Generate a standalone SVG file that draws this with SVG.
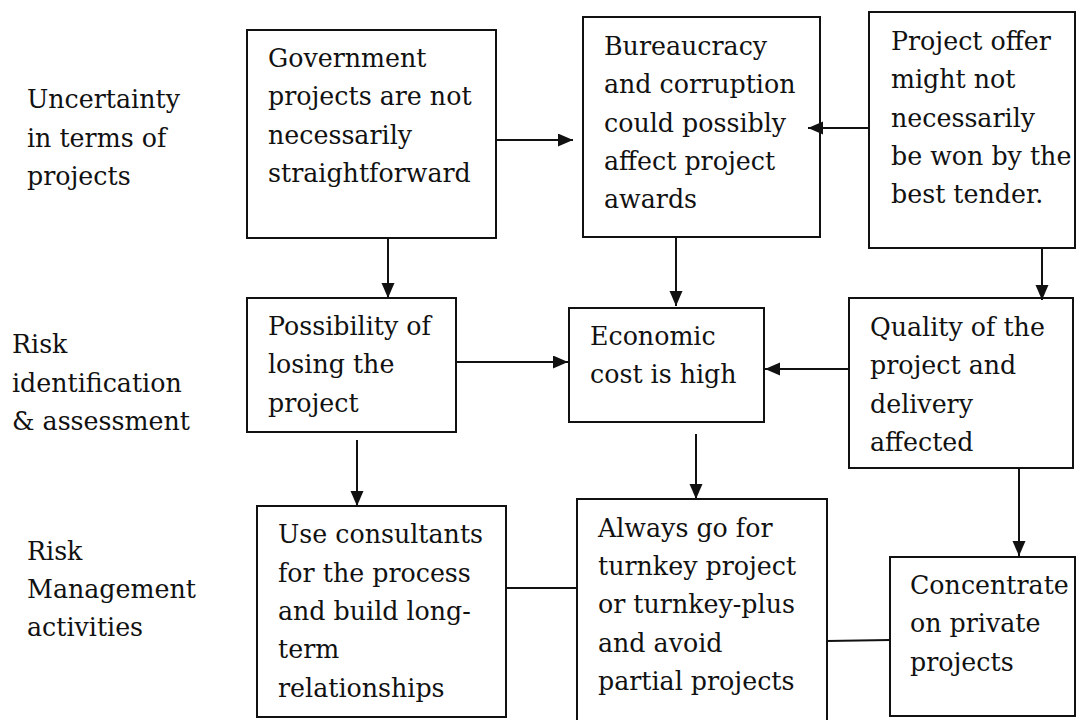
<svg xmlns="http://www.w3.org/2000/svg" width="1077" height="720" viewBox="0 0 1077 720">
<style>
text{font-family:"DejaVu Serif","Liberation Serif",serif;font-size:25.3px;fill:#111}
.box{fill:#fff;stroke:#111;stroke-width:2}
.c{stroke:#111;stroke-width:2;fill:none}
</style>
<defs>
<marker id="ah" markerUnits="userSpaceOnUse" markerWidth="16" markerHeight="14" refX="15" refY="6.5" orient="auto">
<path d="M0,0 L15,6.5 L0,13 z" fill="#111"/>
</marker>
</defs>
<rect width="1077" height="720" fill="#fff"/>
<g id="labels">
<text x="27" y="108">Uncertainty</text>
<text x="27" y="146.5">in terms of</text>
<text x="27" y="184.5">projects</text>
<text x="12" y="353">Risk</text>
<text x="12" y="391.5">identification</text>
<text x="12" y="430">&amp; assessment</text>
<text x="27" y="560">Risk</text>
<text x="27" y="598">Management</text>
<text x="27" y="636">activities</text>
</g>
<g id="n-government">
<rect class="box" x="247" y="30" width="249" height="208"/>
<text x="268" y="66.5">Government</text>
<text x="268" y="105">projects are not</text>
<text x="268" y="143.5">necessarily</text>
<text x="268" y="181.5">straightforward</text>
</g>
<g id="n-bureaucracy">
<rect class="box" x="583" y="17" width="237" height="220"/>
<text x="604" y="55">Bureaucracy</text>
<text x="604" y="93.3">and corruption</text>
<text x="604" y="131.6">could possibly</text>
<text x="604" y="169.9">affect project</text>
<text x="604" y="208.2">awards</text>
</g>
<g id="n-offer">
<rect class="box" x="869" y="12" width="206" height="236"/>
<text x="891" y="50">Project offer</text>
<text x="891" y="88.3">might not</text>
<text x="891" y="126.6">necessarily</text>
<text x="891" y="164.9">be won by the</text>
<text x="891" y="203.2">best tender.</text>
</g>
<g id="n-possibility">
<rect class="box" x="247" y="298" width="209" height="134"/>
<text x="268" y="335">Possibility of</text>
<text x="268" y="373.3">losing the</text>
<text x="268" y="411.6">project</text>
</g>
<g id="n-economic">
<rect class="box" x="569" y="308" width="195" height="114"/>
<text x="590" y="345">Economic</text>
<text x="590" y="383.3">cost is high</text>
</g>
<g id="n-quality">
<rect class="box" x="849" y="298" width="224" height="170"/>
<text x="870" y="336">Quality of the</text>
<text x="870" y="374.3">project and</text>
<text x="870" y="412.6">delivery</text>
<text x="870" y="450.9">affected</text>
</g>
<g id="n-consultants">
<rect class="box" x="257" y="506" width="249" height="211"/>
<text x="278" y="543">Use consultants</text>
<text x="278" y="581.5">for the process</text>
<text x="278" y="620">and build long-</text>
<text x="278" y="658.3">term</text>
<text x="278" y="696.7">relationships</text>
</g>
<g id="n-turnkey">
<rect class="box" x="577" y="499" width="250" height="240"/>
<text x="598" y="537">Always go for</text>
<text x="598" y="575">turnkey project</text>
<text x="598" y="613.3">or turnkey-plus</text>
<text x="598" y="651.6">and avoid</text>
<text x="598" y="689.5">partial projects</text>
</g>
<g id="n-private">
<rect class="box" x="890" y="557" width="185" height="159"/>
<text x="910" y="594">Concentrate</text>
<text x="910" y="632.3">on private</text>
<text x="910" y="670.6">projects</text>
</g>
<g id="connectors">
<line class="c" x1="496" y1="140" x2="573" y2="140" marker-end="url(#ah)"/>
<line class="c" x1="869" y1="128" x2="808" y2="128" marker-end="url(#ah)"/>
<line class="c" x1="388" y1="238" x2="388" y2="298" marker-end="url(#ah)"/>
<line class="c" x1="676" y1="237" x2="676" y2="306" marker-end="url(#ah)"/>
<line class="c" x1="1042" y1="248" x2="1042" y2="300" marker-end="url(#ah)"/>
<line class="c" x1="456" y1="362" x2="568" y2="362" marker-end="url(#ah)"/>
<line class="c" x1="849" y1="369" x2="765" y2="369" marker-end="url(#ah)"/>
<line class="c" x1="357" y1="440" x2="357" y2="506" marker-end="url(#ah)"/>
<line class="c" x1="696" y1="434" x2="696" y2="499" marker-end="url(#ah)"/>
<line class="c" x1="1019" y1="468" x2="1019" y2="556" marker-end="url(#ah)"/>
<line class="c" x1="506" y1="588" x2="577" y2="588"/>
<line class="c" x1="827" y1="641" x2="890" y2="640"/>
</g>
</svg>
